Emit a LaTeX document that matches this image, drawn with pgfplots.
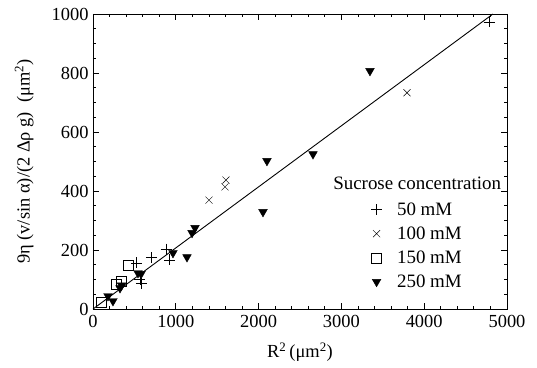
\documentclass[border=0pt]{standalone}
\usepackage{fontspec}
\setmainfont{Liberation Serif}
\usepackage{pgfplots}
\pgfplotsset{compat=1.18}
\begin{document}
\begin{tikzpicture}
\begin{axis}[
  scale only axis,
  width=414bp, height=295bp,
  xmin=0, xmax=5000, ymin=0, ymax=1000,
  xtick={0,1000,2000,3000,4000,5000},
  ytick={0,200,400,600,800,1000},
  minor x tick num=4,
  minor y tick num=3,
  tick align=inside,
  major tick length=6bp,
  minor tick length=3bp,
  tick style={black, line width=0.8pt},
  axis line style={line width=0.9pt},
  /pgf/number format/assume math mode=true,
  /pgf/number format/1000 sep={},
  font=\fontsize{18.5}{21}\selectfont,
  tick label style={font=\fontsize{18.5}{21}\selectfont},
  xticklabel style={yshift=-3bp},
  yticklabel style={xshift=-1bp},
  xlabel={R\textsuperscript{2}\,(μm\textsuperscript{2})},
  ylabel={9η (v/sin α)/(2 Δρ g)\ \ (μm\textsuperscript{2})},
  xlabel style={at={(axis description cs:0.5,-0.146)}, anchor=center},
  ylabel style={at={(axis description cs:-0.166,0.5)}, anchor=center},
  legend style={draw=none, fill=none, at={(0.664,0.375)}, anchor=north west,
    font=\fontsize{19}{21}\selectfont, row sep=6bp, legend cell align=left},
  clip=true,
]
\addplot[black, no marks, line width=0.9pt, forget plot] coordinates {(0,0) (4830,1000)};
\addplot[only marks, mark=+, mark size=5.5bp, black, line width=0.45pt] coordinates {
(525,156) (706,174) (882,203) (925,167) (565,100) (585,88) (4783,973)
};
\addlegendentry{\hspace{13bp}50 mM}
\addplot[only marks, mark=x, mark size=5bp, black, line width=0.45pt] coordinates {
(1401,369) (1606,437) (1594,414) (3792,733)
};
\addlegendentry{\hspace{13bp}100 mM}
\addplot[only marks, mark=square, mark size=5bp, black, line width=0.45pt] coordinates {
(423,148) (284,84) (338,95) (103,22)
};
\addlegendentry{\hspace{13bp}150 mM}
\addplot[only marks, mark=triangle*, mark options={rotate=180}, mark size=5bp, black] coordinates {
(2101,502) (2657,525) (2053,329) (1196,258) (1232,275) (1135,176) (966,190)
(543,122) (580,119) (326,71) (345,80) (181,44) (241,27) (3345,807)
};
\addlegendentry{\hspace{13bp}250 mM}
\node[anchor=west, inner sep=0pt, font=\fontsize{19}{21}\selectfont] at (rel axis cs:0.58,0.427) {Sucrose concentration};
\end{axis}
\path[use as bounding box] (-93bp,-59bp) rectangle (444bp,309bp);
\end{tikzpicture}
\end{document}
